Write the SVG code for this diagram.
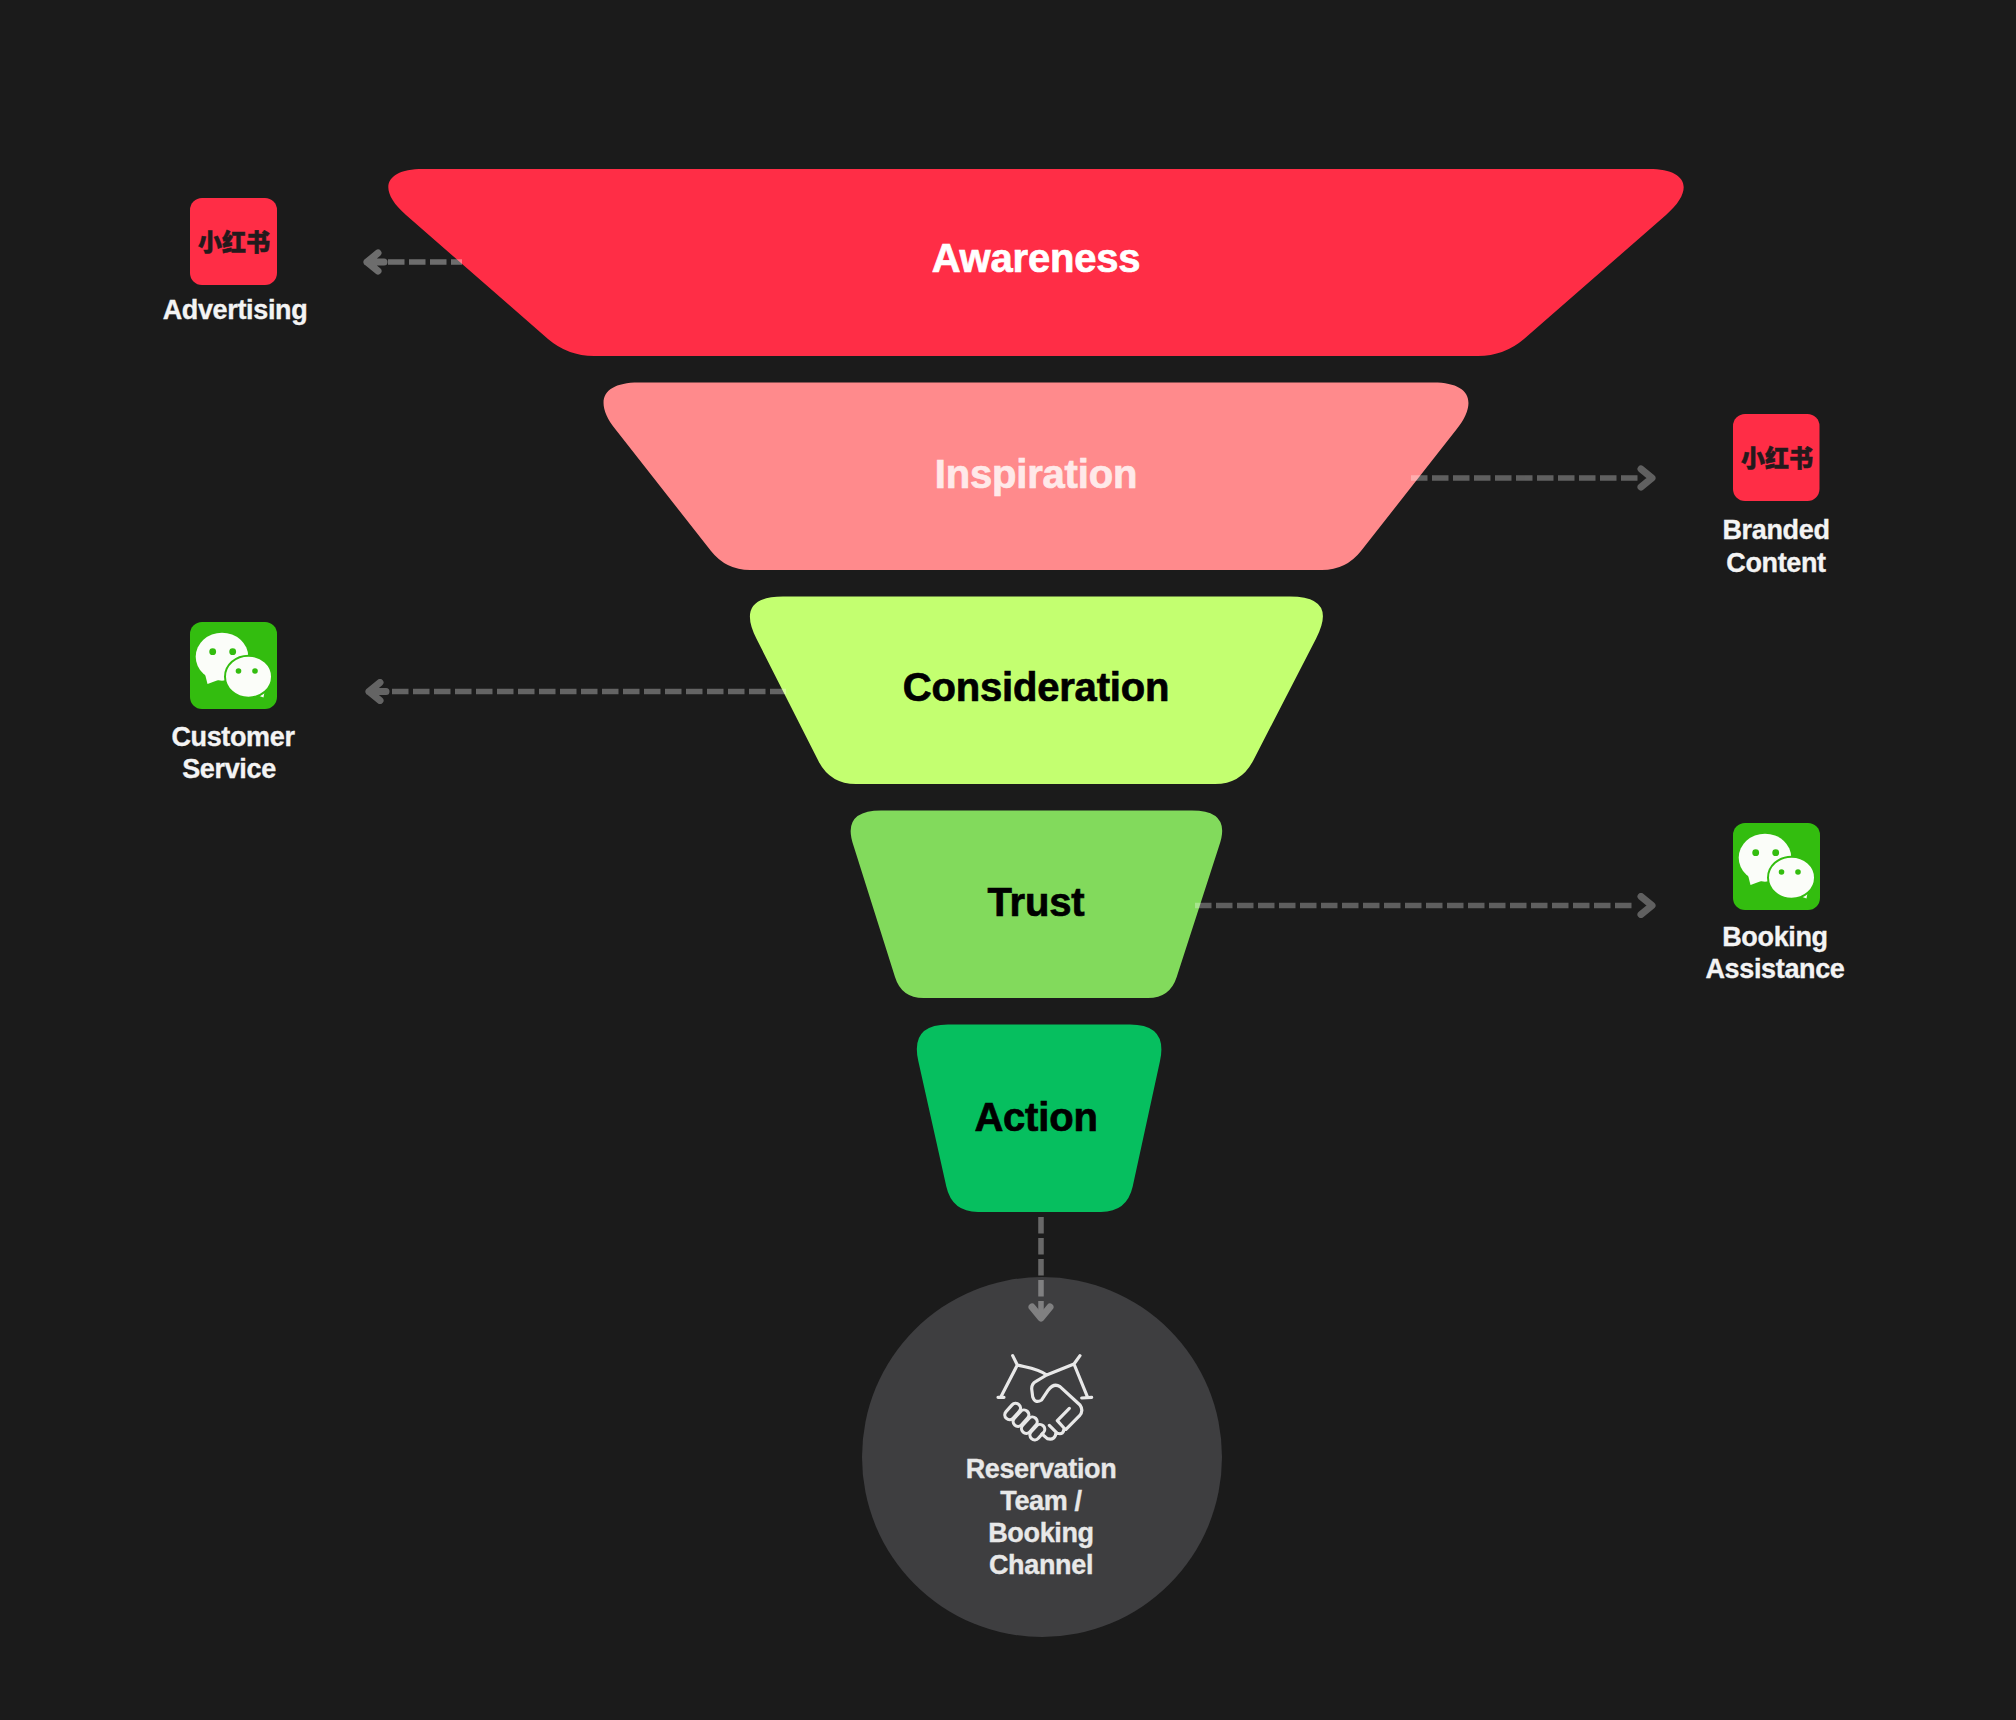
<svg xmlns="http://www.w3.org/2000/svg" width="2016" height="1720" viewBox="0 0 2016 1720">
<style>
text{font-family:"Liberation Sans","Noto Sans CJK SC",sans-serif;font-weight:700;text-anchor:middle}
.stage{font-size:40px;letter-spacing:-.2px;stroke-width:.7px}
.wt{fill:#fff;stroke:#fff}
.bk{fill:#000;stroke:#000}
.lbl{font-size:27px;letter-spacing:-.35px;fill:#f4f4f4;stroke:#f4f4f4;stroke-width:.35px}
.res{font-size:27px;letter-spacing:-.35px;fill:#e8e8e8;stroke:#e8e8e8;stroke-width:.35px}
.xhs{font-family:"Noto Sans CJK SC",sans-serif;font-size:24px;font-weight:900;fill:#231a1c;stroke:#231a1c;stroke-width:.5px;letter-spacing:0}
.dash{fill:none;stroke:#fff;stroke-width:5.5;stroke-dasharray:16.5 4.5}
.head{fill:none;stroke:#fff;stroke-width:7;stroke-linecap:round;stroke-linejoin:round}
.hs{fill:none;stroke:#e8e8e8;stroke-width:9.5;stroke-linecap:round;stroke-linejoin:round}
</style>
<defs>
<g id="wechat">
<rect width="87" height="87" rx="12" fill="#33bd0f"/>
<path d="M15 52 L17.5 62 L31 57Z" fill="#fbfdf9"/>
<ellipse cx="32" cy="34.7" rx="26.3" ry="24" fill="#fbfdf9"/>
<path d="M64 72 L73.5 75.5 L75 67Z" fill="#fbfdf9"/>
<ellipse cx="58.5" cy="54.7" rx="23.5" ry="21" fill="#fbfdf9" stroke="#33bd0f" stroke-width="2"/>
<circle cx="22.7" cy="29.7" r="3.4" fill="#33bd0f"/><circle cx="42.7" cy="29.7" r="3.4" fill="#33bd0f"/>
<circle cx="48.5" cy="49" r="2.8" fill="#33bd0f"/><circle cx="65" cy="49" r="2.8" fill="#33bd0f"/>
</g>
</defs>
<rect width="2016" height="1720" fill="#1b1b1b"/>

<g id="node-awareness">
<path fill="#ff2d46" d="M423 169H1649C1687.5 169 1695.100 189.700 1666 215L1524 339Q1504 356 1478 356H594Q568 356 548 339L406 215C376.900 189.700 384.500 169 423 169Z"/>
<text class="stage wt" x="1036" y="272">Awareness</text>
</g>
<g id="node-inspiration">
<path fill="#ff8a8c" d="M638.5 382.5H1433.5C1469.5 382.5 1478.7 401.3 1456.4 429.6L1361 551Q1346 570 1322 570H750Q726 570 711 551L615.6 429.6C593.3 401.3 602.5 382.5 638.5 382.5Z"/>
<text class="stage" fill="#ffe9e9" stroke="#ffe9e9" x="1036" y="488">Inspiration</text>
</g>
<g id="node-consideration">
<path fill="#c3ff70" d="M783 596.5H1290Q1338 596.5 1316 638.7L1253 760.9Q1241 784 1215 784H856Q830 784 818.3 760.8L756.6 639Q735 596.5 783 596.5Z"/>
<text class="stage bk" x="1036" y="701">Consideration</text>
</g>
<g id="node-trust">
<path fill="#82da5c" d="M881 810.5H1192Q1232 810.5 1219 846.2L1176.7 977Q1170 998 1148 998H923.5Q901.5 998 895 977L853.7 846.3Q841 810.5 881 810.5Z"/>
<text class="stage bk" x="1036" y="916">Trust</text>
</g>
<g id="node-action">
<path fill="#06bf5f" d="M948 1024.5H1130Q1168 1024.5 1160 1061L1132.7 1186.6Q1127 1212 1101 1212H978Q952 1212 946.3 1186.6L918.3 1061Q910 1024.5 948 1024.5Z"/>
<text class="stage bk" x="1036" y="1131">Action</text>
</g>

<g id="node-reservation">
<circle cx="1042" cy="1457" r="180" fill="#3e3e40"/>
<g transform="translate(980 1340) scale(.3333)">
<path class="hs" d="M98 47L112 75C140 82 175 85 200 105M112 75L62 172M54 172H72M300 47L282 72L200 105L168 124Q155 131 155 146L158 170Q165 192 185 180L205 150Q222 128 240 140L300 195M282 72L322 170M305 174L335 172M300 195Q312 212 298 228L258 268M268 205L232 242M232 242L252 264Q252 286 232 280L208 256M228 278Q226 302 202 296L186 282"/>
<rect class="hs" x="70" y="200" width="56" height="29" rx="14.500" transform="rotate(-48 98 214.500)"/>
<rect class="hs" x="95" y="220" width="56" height="29" rx="14.500" transform="rotate(-48 123 234.500)"/>
<rect class="hs" x="120" y="241" width="56" height="29" rx="14.500" transform="rotate(-48 148 255.500)"/>
<rect class="hs" x="146" y="262" width="52" height="29" rx="14.500" transform="rotate(-48 172 276.500)"/>
</g>
<text class="res" x="1041" y="1478">Reservation</text>
<text class="res" x="1041" y="1510">Team /</text>
<text class="res" x="1041" y="1542">Booking</text>
<text class="res" x="1041" y="1574">Channel</text>
</g>

<g id="node-advertising">
<rect x="190" y="198" width="87" height="87" rx="12" fill="#ff2d46"/>
<text class="xhs" x="234" y="250.5">小红书</text>
<text class="lbl" x="235" y="319">Advertising</text>
</g>
<g id="node-branded-content">
<rect x="1733" y="414" width="86.500" height="87" rx="12" fill="#ff2d46"/>
<text class="xhs" x="1777" y="466.5">小红书</text>
<text class="lbl" x="1776" y="539">Branded</text>
<text class="lbl" x="1776" y="572">Content</text>
</g>
<g id="node-customer-service">
<use href="#wechat" x="190" y="622"/>
<text class="lbl" x="233" y="746">Customer</text>
<text class="lbl" x="229" y="778">Service</text>
</g>
<g id="node-booking-assistance">
<use href="#wechat" x="1733" y="823"/>
<text class="lbl" x="1775" y="946">Booking</text>
<text class="lbl" x="1775" y="978">Assistance</text>
</g>

<g id="connectors">
<g id="conn-advertising" opacity=".36">
<path class="dash" d="M388 262H462"/>
<path class="head" d="M378 253L367 262L378 271M367 262H384"/>
</g>
<g id="conn-branded" opacity=".3">
<path class="dash" d="M1411 478H1638"/>
<path class="head" d="M1641 469L1652 478L1641 487"/>
</g>
<g id="conn-customer" opacity=".32">
<path class="dash" d="M392 691.5H786"/>
<path class="head" d="M380 682.500L369 691.5L380 700.500M369 691.5H386"/>
</g>
<g id="conn-booking" opacity=".3">
<path class="dash" d="M1195 905.5H1634"/>
<path class="head" d="M1641 896.500L1652 905.5L1641 914.500"/>
</g>
<g id="conn-reservation" opacity=".34">
<path class="dash" d="M1041 1217V1314"/>
<path class="head" d="M1032 1307L1041 1318L1050 1307"/>
</g>
</g>
</svg>
